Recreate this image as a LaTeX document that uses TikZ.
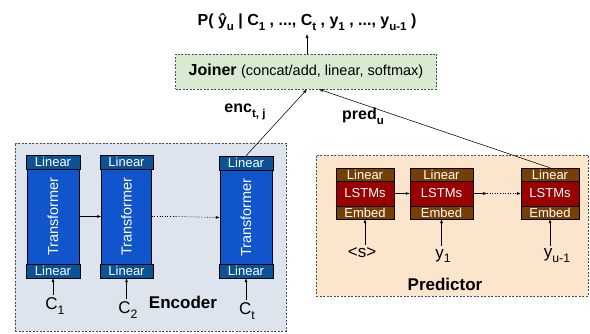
\documentclass[tikz,border=0pt]{standalone}
\usepackage{fontspec}
\setmainfont{Liberation Sans}
\usepackage{graphicx}
\usetikzlibrary{arrows.meta}
\definecolor{encbg}{RGB}{221,228,238}
\definecolor{predbg}{RGB}{252,229,205}
\definecolor{joinbg}{RGB}{217,234,211}
\definecolor{linblue}{RGB}{11,83,148}
\definecolor{trfblue}{RGB}{17,85,204}
\definecolor{embbrown}{RGB}{120,63,4}
\definecolor{lstmred}{RGB}{153,0,0}
\newcommand{\fsz}[1]{\fontsize{#1}{#1}\selectfont}
\newcommand{\dn}[1]{\raisebox{-0.55ex}{\scalebox{0.72}{#1}}}
\begin{document}
\begin{tikzpicture}[x=1pt,y=-1pt]
\tikzset{panel/.style = {draw=black!70,dash pattern=on 2pt off 1.5pt,line width=0.6pt,inner sep=0}}
\tikzset{enclin/.style = {draw,fill=linblue,text=white,minimum height=14,inner sep=0,font=\fsz{13}}}
\tikzset{trf/.style = {draw,fill=trfblue,text=white,rotate=90,minimum width=95,inner sep=0,font=\fsz{14.5}}}
\tikzset{prdbox/.style = {draw,fill=embbrown,text=white,inner sep=0,font=\fsz{13}}}
\tikzset{lbl/.style = {inner sep=2.5,font=\fsz{17}}}
\tikzset{arr/.style = {-{Latex[length=4pt,width=3pt]},line width=0.55pt}}
\useasboundingbox (0,0) rectangle (590,334);
% panels
\node[panel,fill=encbg,minimum width=271,minimum height=188] (encbox) at (150.5,237) {};
\node[panel,fill=predbg,minimum width=272,minimum height=141] (predbox) at (452,225.5) {};
\node[panel,fill=joinbg,minimum width=261,minimum height=35] (joiner) at (306,71.5)
  {\fsz{16}\textbf{Joiner} {\fsz{14.5}(concat/add, linear, softmax)}};
\node[font=\fsz{16}\bfseries] (title) at (307,22)
  {P( ŷ\dn{u} | C\dn{1} , ..., C\dn{t} , y\dn{1} , ..., y\dn{u-1} )};
% encoder columns
\node[enclin,minimum width=54] (e1t) at (53,162) {Linear};
\node[trf,minimum height=52] (e1) at (53,216.5) {Transformer};
\node[enclin,minimum width=54] (e1b) at (53,271) {Linear};
\node[enclin,minimum width=53] (e2t) at (126.5,162) {Linear};
\node[trf,minimum height=50] (e2) at (126.5,216.5) {Transformer};
\node[enclin,minimum width=53] (e2b) at (126.5,271) {Linear};
\node[enclin,minimum width=54] (e3t) at (246,163) {Linear};
\node[trf,minimum height=52] (e3) at (246,217.5) {Transformer};
\node[enclin,minimum width=54] (e3b) at (246,271) {Linear};
% predictor columns
\node[prdbox,minimum width=58,minimum height=13] (p1t) at (365,174.5) {Linear};
\node[prdbox,fill=lstmred,minimum width=58,minimum height=25] (p1) at (365,193.5) {LSTMs};
\node[prdbox,minimum width=58,minimum height=13] (p1b) at (365,212.5) {Embed};
\node[prdbox,minimum width=63,minimum height=13] (p2t) at (441.5,174.5) {Linear};
\node[prdbox,fill=lstmred,minimum width=63,minimum height=25] (p2) at (441.5,193.5) {LSTMs};
\node[prdbox,minimum width=63,minimum height=13] (p2b) at (441.5,212.5) {Embed};
\node[prdbox,minimum width=58,minimum height=13] (p3t) at (550,174.5) {Linear};
\node[prdbox,fill=lstmred,minimum width=58,minimum height=25] (p3) at (550,193.5) {LSTMs};
\node[prdbox,minimum width=58,minimum height=13] (p3b) at (550,212.5) {Embed};
% inputs and labels
\node[lbl] (c1) at (55,306) {C\dn{1}};
\node[lbl] (c2) at (128,310) {C\dn{2}};
\node[lbl] (ct) at (247,311) {C\dn{t}};
\node[lbl] (s0) at (362,253) {<s>};
\node[lbl] (y1) at (443,256) {y\dn{1}};
\node[lbl] (yu) at (557,256) {y\dn{u-1}};
\node[font=\fsz{17}\bfseries] (enclab) at (183,302) {Encoder};
\node[font=\fsz{17}\bfseries] (predlab) at (445,284) {Predictor};
\node[font=\fsz{16}\bfseries] (enc) at (245,112) {enc\dn{t, j}};
\node[font=\fsz{16}\bfseries] (pred) at (363,116) {pred\dn{u}};
% connectors
\draw[arr] (joiner.north -| title) -- (title.south);
\draw[arr] (e3t.north) -- ([xshift=1]joiner.south);
\draw[arr] (p3t.north) -- ([xshift=13]joiner.south);
\draw[arr] (e1.south) -- (e2.north);
\draw[dotted,line width=0.6pt] (e2.south) -- ++(23,0) coordinate (edot);
\draw[arr,densely dotted] (edot) -- (e3.north);
\draw[arr] (p1.east) -- (p2.west);
\draw[arr] (p2.east) -- ++(14,0) coordinate (pdot);
\draw[arr,dotted] (pdot) -- (p3.west);
\draw[arr] (c1.north -| e1b) -- (e1b);
\draw[arr] (c2.north -| e2b) -- (e2b);
\draw[arr] (ct.north -| e3b) -- (e3b);
\draw[arr] (s0.north -| p1b) -- (p1b);
\draw[arr] (y1.north -| p2b) -- (p2b);
\draw[arr] (yu.north -| p3b) -- (p3b);
\end{tikzpicture}
\end{document}
